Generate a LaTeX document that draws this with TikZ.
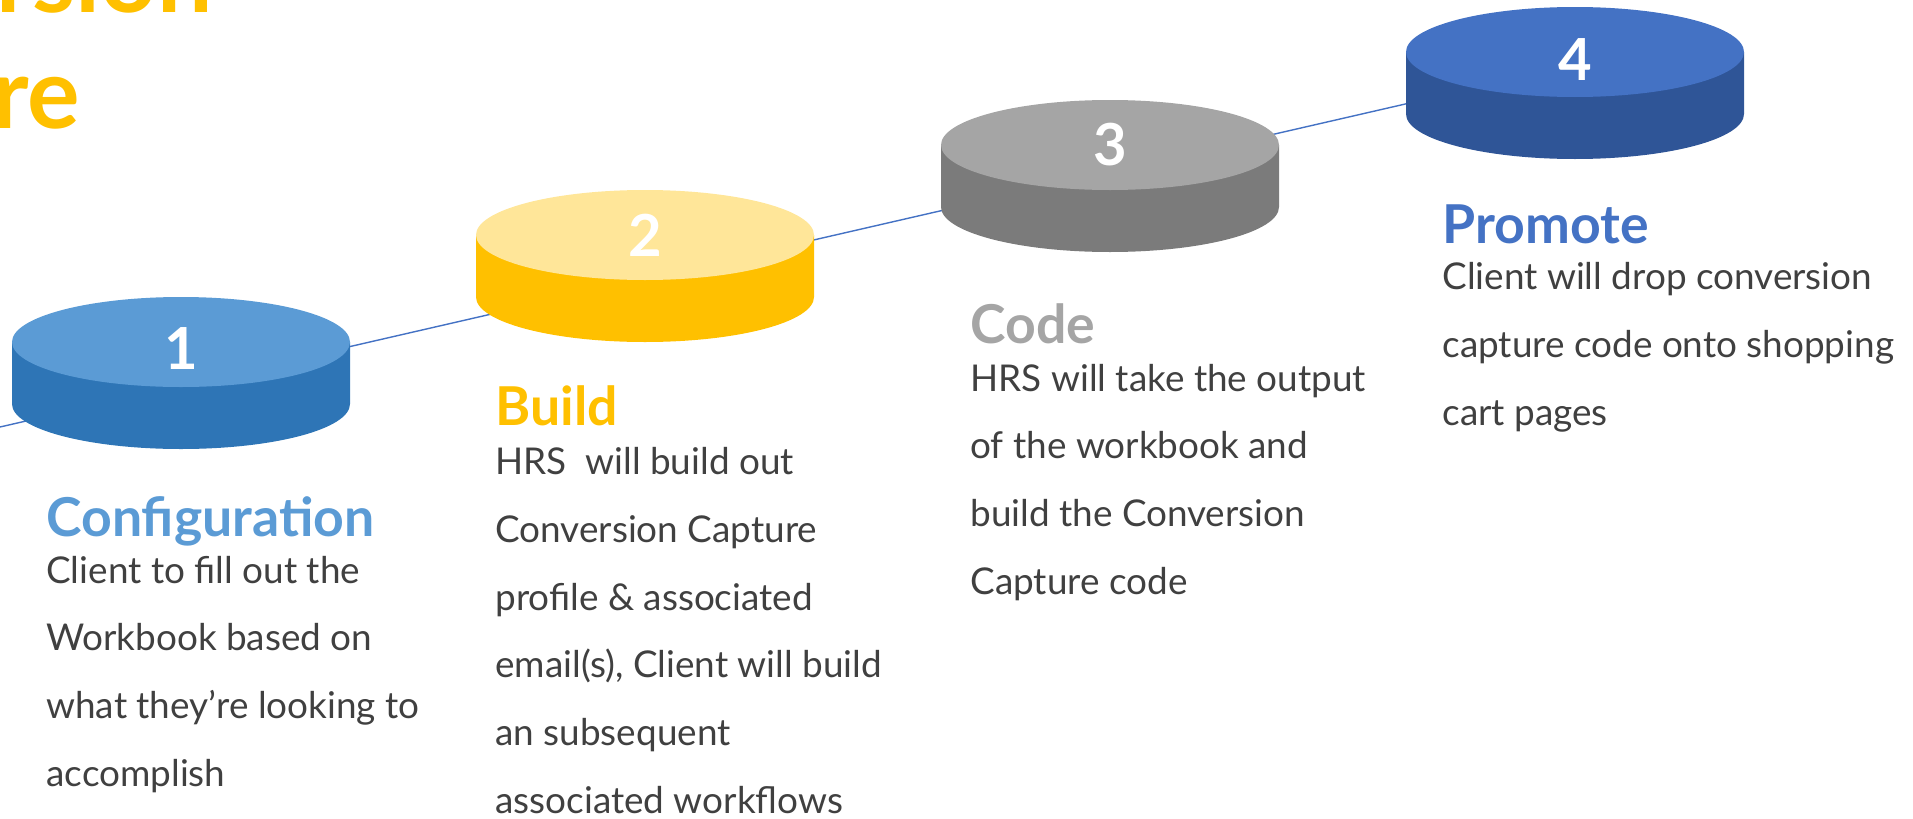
\documentclass[tikz,border=0pt]{standalone}
\usepackage{fontspec}
\setmainfont{Lato}
\usepackage{xcolor}
\usepackage{tikz}

\definecolor{cfgtop}{HTML}{5B9BD5}
\definecolor{cfgside}{HTML}{2E75B6}
\definecolor{bldtop}{HTML}{FFE699}
\definecolor{bldside}{HTML}{FFC000}
\definecolor{codetop}{HTML}{A5A5A5}
\definecolor{codeside}{HTML}{7B7B7B}
\definecolor{protop}{HTML}{4472C4}
\definecolor{proside}{HTML}{2F5597}
\definecolor{textgray}{HTML}{404040}

\begin{document}
\begin{tikzpicture}[x=0.02cm, y=-0.02cm,
    title/.style={anchor=base east, inner sep=0pt, text=bldside, font=\fontsize{56}{60}\selectfont\bfseries},
    heading/.style={anchor=base west, inner sep=0pt, font=\fontsize{30.5}{36}\selectfont\bfseries},
    body/.style={anchor=base west, inner sep=0pt, align=left, text=textgray, font=\fontsize{21}{38.5}\selectfont},
    num/.style={anchor=base, inner sep=0pt, text=white, font=\fontsize{33}{40}\selectfont\bfseries}]
    \useasboundingbox (0,0) rectangle (1913,818);
    \clip (0,0) rectangle (1913,818);
    \node[title] (ttl1) at (213,12) {Conversion};
    \node[title] (ttl2) at (80,128) {Capture};
    \coordinate (lnstart) at (0,427);
    \coordinate (lnend) at (1575,65);
    \draw[thick, protop] (lnstart) -- (lnend);
    \foreach \i/\cx/\cy/\ny/\tc/\sc in {1/181/342/369/cfgtop/cfgside, 2/645/235/256/bldtop/bldside, 3/1110/145/165/codetop/codeside, 4/1575/52/80/protop/proside} {
        \fill[\sc] (\cx-169,\cy) -- ++(0,62) arc[start angle=180, end angle=0, x radius=169, y radius=45] -- ++(0,-62) -- cycle;
        \fill[\tc] (\cx,\cy) ellipse[x radius=169, y radius=45];
        \node[num] (n\i) at (\cx,\ny) {\i};
    }
    % body nodes sit on the baseline of their last line
    \node[heading, text=cfgtop] (h1) at (46,536) {Configuration};
    \node[body] (b1) at (46,786) {Client to fill out the\\Workbook based on\\what they’re looking to\\accomplish};
    \node[heading, text=bldside] (h2) at (495,425) {Build};
    \node[body] (b2) at (495,813) {HRS\ \ will build out\\Conversion Capture\\profile \& associated\\email(s), Client will build\\an subsequent\\associated workflows};
    \node[heading, text=codetop] (h3) at (970,343) {Code};
    \node[body] (b3) at (970,594) {HRS will take the output\\of the workbook and\\build the Conversion\\Capture code};
    \node[heading, text=protop] (h4) at (1442,243) {Promote};
    \node[body] (b4) at (1442,425) {Client will drop conversion\\capture code onto shopping\\cart pages};
\end{tikzpicture}
\end{document}
